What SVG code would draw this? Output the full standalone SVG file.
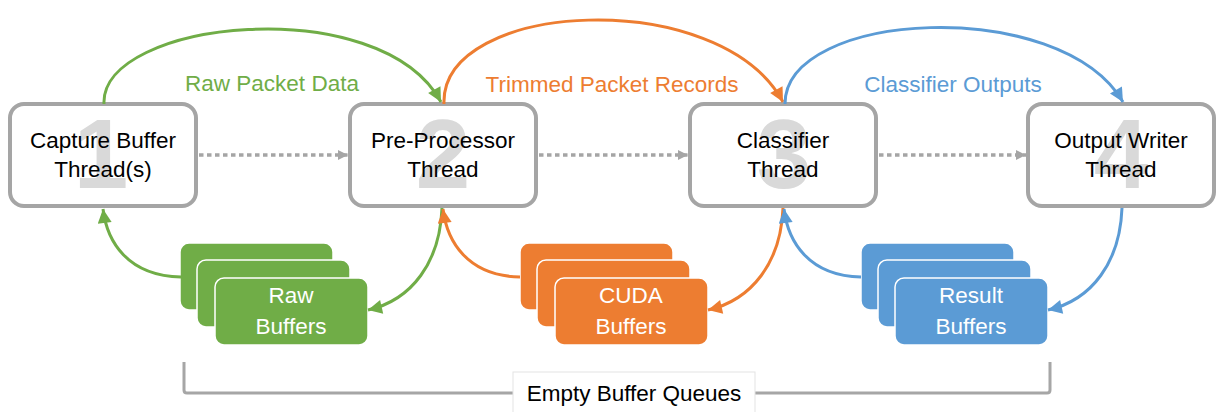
<svg xmlns="http://www.w3.org/2000/svg" width="1217" height="412" viewBox="0 0 1217 412">
<defs>
<style>
.node{fill:#fff;stroke:#a5a5a5;stroke-width:4}
.num{font-family:"Liberation Sans",Arial,sans-serif;font-weight:bold;font-size:98px;fill:#d9d9d9;text-anchor:middle}
.lbl{font-family:"Liberation Sans",Arial,sans-serif;font-size:22.5px;fill:#000;text-anchor:middle}
.wl{font-family:"Liberation Sans",Arial,sans-serif;font-size:22.5px;fill:#fff;text-anchor:middle}
.buf{stroke:#fff;stroke-width:1.5}
.g{fill:#70ad47}.o{fill:#ed7d31}.b{fill:#5b9bd5}
.cg{fill:none;stroke:#70ad47;stroke-width:3;marker-end:url(#ag)}
.co{fill:none;stroke:#ed7d31;stroke-width:3;marker-end:url(#ao)}
.cb{fill:none;stroke:#5b9bd5;stroke-width:3;marker-end:url(#ab)}
.dot{fill:none;stroke:#a5a5a5;stroke-width:3.5;stroke-dasharray:4.5 3.5;marker-end:url(#ad)}
</style>
<marker id="ag" viewBox="0 0 10 10" refX="10" refY="5" markerWidth="15" markerHeight="14" orient="auto" markerUnits="userSpaceOnUse"><path d="M0,0 L10,5 L0,10 z" fill="#70ad47"/></marker>
<marker id="ao" viewBox="0 0 10 10" refX="10" refY="5" markerWidth="15" markerHeight="14" orient="auto" markerUnits="userSpaceOnUse"><path d="M0,0 L10,5 L0,10 z" fill="#ed7d31"/></marker>
<marker id="ab" viewBox="0 0 10 10" refX="10" refY="5" markerWidth="15" markerHeight="14" orient="auto" markerUnits="userSpaceOnUse"><path d="M0,0 L10,5 L0,10 z" fill="#5b9bd5"/></marker>
<marker id="ad" viewBox="0 0 10 10" refX="10" refY="5" markerWidth="10" markerHeight="10" orient="auto" markerUnits="userSpaceOnUse"><path d="M0,0 L10,5 L0,10 z" fill="#a5a5a5"/></marker>
</defs>
<rect width="1217" height="412" fill="#fff"/>

<g id="node1">
<rect class="node" x="10" y="104" width="186" height="102" rx="14"/>
<text class="num" x="101" y="188">1</text>
<text class="lbl" x="103" y="148">Capture Buffer</text>
<text class="lbl" x="103" y="177">Thread(s)</text>
</g>
<g id="node2">
<rect class="node" x="350" y="104" width="186" height="102" rx="14"/>
<text class="num" x="443" y="188">2</text>
<text class="lbl" x="443" y="148">Pre-Processor</text>
<text class="lbl" x="443" y="177">Thread</text>
</g>
<g id="node3">
<rect class="node" x="690" y="104" width="186" height="102" rx="14"/>
<text class="num" x="784" y="188">3</text>
<text class="lbl" x="783" y="148">Classifier</text>
<text class="lbl" x="783" y="177">Thread</text>
</g>
<g id="node4">
<rect class="node" x="1028" y="104" width="186" height="102" rx="14"/>
<text class="num" x="1121" y="188">4</text>
<text class="lbl" x="1121" y="148">Output Writer</text>
<text class="lbl" x="1121" y="177">Thread</text>
</g>

<g id="rawBuffers">
<rect class="buf g" x="180" y="243" width="153" height="67" rx="9"/>
<rect class="buf g" x="197" y="260" width="153" height="67" rx="9"/>
<rect class="buf g" x="215" y="278" width="153" height="67" rx="9"/>
<text class="wl" x="291" y="303">Raw</text>
<text class="wl" x="291" y="334">Buffers</text>
</g>
<g id="cudaBuffers">
<rect class="buf o" x="520" y="243" width="153" height="67" rx="9"/>
<rect class="buf o" x="537" y="260" width="153" height="67" rx="9"/>
<rect class="buf o" x="555" y="278" width="153" height="67" rx="9"/>
<text class="wl" x="631" y="303">CUDA</text>
<text class="wl" x="631" y="334">Buffers</text>
</g>
<g id="resultBuffers">
<rect class="buf b" x="861" y="243" width="153" height="67" rx="9"/>
<rect class="buf b" x="878" y="260" width="153" height="67" rx="9"/>
<rect class="buf b" x="895" y="278" width="153" height="67" rx="9"/>
<text class="wl" x="971" y="303">Result</text>
<text class="wl" x="971" y="334">Buffers</text>
</g>

<g id="connectors">
<path class="dot" d="M199,155 L348,155"/>
<path class="dot" d="M539,155 L688,155"/>
<path class="dot" d="M879,155 L1026,155"/>
<path class="cg" d="M104,104 C100,20 380,-10 441,102"/>
<path class="cg" d="M181,277 C128,276 107,242 103,209"/>
<path class="cg" d="M442,208 C440,262 412,300 368,310"/>
<path class="co" d="M444,104 C440,0 720,-15 783,102"/>
<path class="co" d="M520,277 C468,276 447,242 443,209"/>
<path class="co" d="M783,208 C781,262 752,300 708,310"/>
<path class="cb" d="M785,104 C785,10 1060,-5 1123,102"/>
<path class="cb" d="M861,277 C809,276 788,242 784,209"/>
<path class="cb" d="M1122,208 C1120,262 1092,300 1048,310"/>
<text class="lbl" x="272" y="91" style="fill:#70ad47">Raw Packet Data</text>
<text class="lbl" x="612" y="92" style="fill:#ed7d31">Trimmed Packet Records</text>
<text class="lbl" x="953" y="92" style="fill:#5b9bd5">Classifier Outputs</text>
</g>

<g id="bracket">
<path d="M184,362 L184,390 Q184,393 187,393 L1047,393 Q1050,393 1050,390 L1050,362" fill="none" stroke="#a6a6a6" stroke-width="3"/>
<rect x="513" y="372" width="242" height="44" fill="#fff" stroke="#e3e3e3" stroke-width="1"/>
<text class="lbl" x="634" y="401">Empty Buffer Queues</text>
</g>
</svg>
